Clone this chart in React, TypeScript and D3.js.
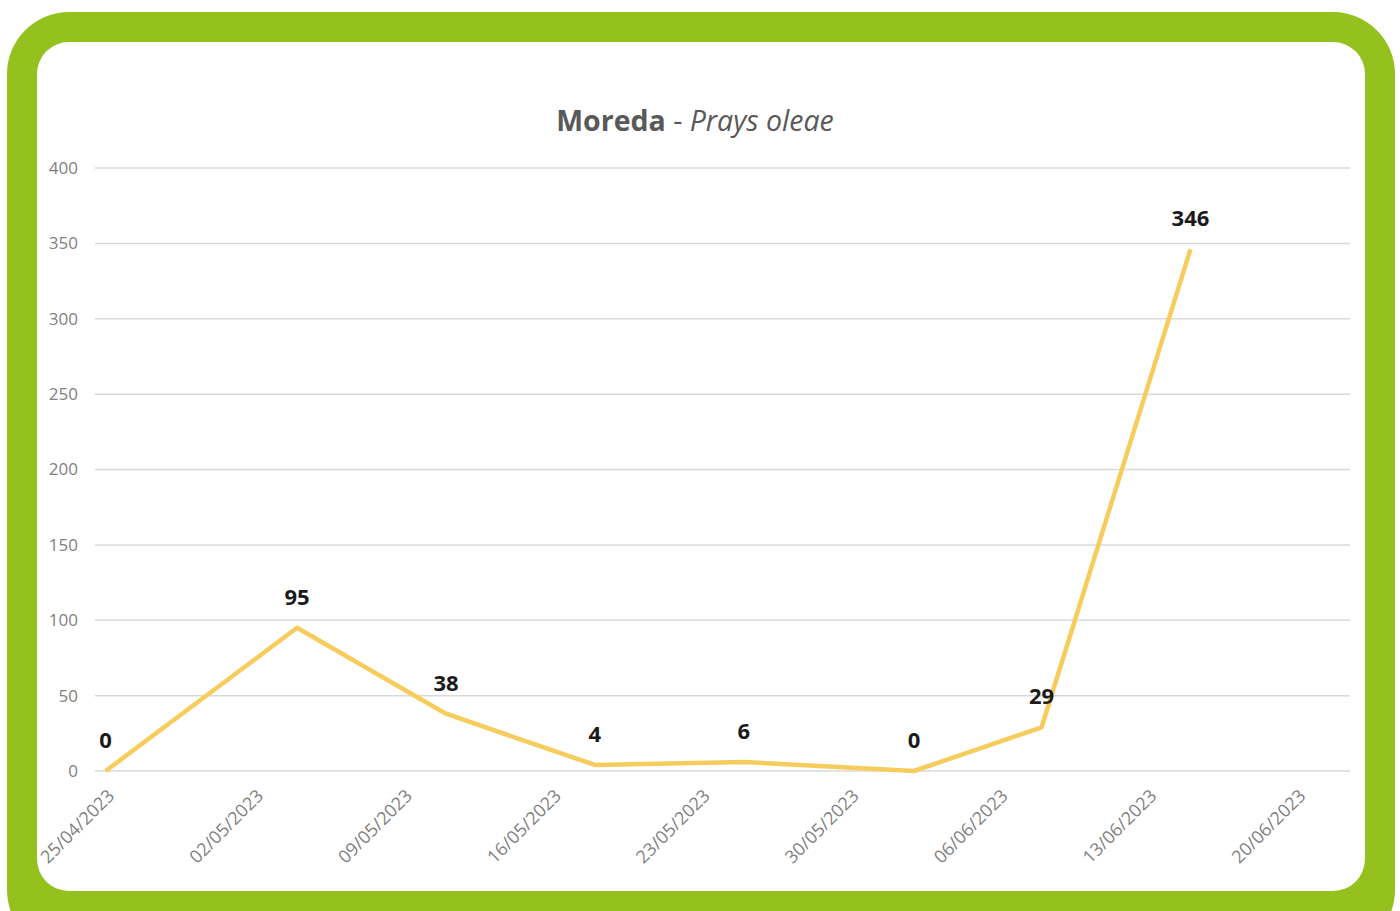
import React from "react";
import * as d3 from "d3";

const dates = ["2023-04-25", "2023-05-04", "2023-05-11", "2023-05-18", "2023-05-25", "2023-06-02", "2023-06-08", "2023-06-15"];
const values = [0, 95, 38, 4, 6, 0, 29, 346];
const tickDates = ["2023-04-25", "2023-05-02", "2023-05-09", "2023-05-16", "2023-05-23", "2023-05-30", "2023-06-06", "2023-06-13", "2023-06-20"];
const yTicks = [0, 50, 100, 150, 200, 250, 300, 350, 400];
const titleMain = "Moreda";
const titleSpecies = "Prays oleae";

const W = 1400;
const H = 911;
const parse = (s: string) => new Date(s + "T00:00:00");
const fmt = d3.timeFormat("%d/%m/%Y");

export default function App() {
  const x = d3
    .scaleTime()
    .domain([new Date("2023-04-24T12:00:00"), new Date("2023-06-22T12:00:00")])
    .range([95, 1350]);
  const y = d3.scaleLinear().domain([0, 400]).range([771, 168]);
  const pts = dates.map((d, i) => ({ d: parse(d), v: values[i] }));
  const line = d3
    .line<{ d: Date; v: number }>()
    .x((p) => x(p.d))
    .y((p) => y(p.v));
  const font = "'Open Sans', 'Noto Sans', sans-serif";

  return (
    <svg
      width={W}
      height={H}
      style={{ position: "absolute", left: 0, top: 0 }}
      fontFamily={font}
    >
      <rect x={0} y={0} width={W} height={H} fill="#ffffff" />
      <rect x={7} y={12} width={1388} height={940} rx={62} ry={62} fill="#95C11F" />
      <rect x={37} y={42} width={1328} height={849} rx={32} ry={32} fill="#ffffff" />

      <text x={695} y={131} textAnchor="middle" fontSize={28.5} fill="#595959">
        <tspan fontWeight="bold">{titleMain}</tspan>
        <tspan> - </tspan>
        <tspan fontStyle="italic">{titleSpecies}</tspan>
      </text>

      {yTicks.map((t) => (
        <g key={t}>
          <line x1={95} x2={1350} y1={y(t)} y2={y(t)} stroke="#d9d9d9" strokeWidth={1.5} />
          <text x={78} y={y(t)} dy="0.35em" textAnchor="end" fontSize={17} fill="#7f7f7f">
            {t}
          </text>
        </g>
      ))}

      {tickDates.map((t) => {
        const tx = x(parse(t));
        return (
          <text
            key={t}
            transform={`translate(${tx + 1},${788}) rotate(-45)`}
            textAnchor="end"
            dy="0.7em"
            fontSize={18}
            fill="#7f7f7f"
          >
            {fmt(parse(t))}
          </text>
        );
      })}

      <path d={line(pts) || ""} fill="none" stroke="#F6CD5C" strokeWidth={4.5} strokeLinejoin="round" />

      {pts.map((p, i) => (
        <text
          key={i}
          x={x(p.d)}
          y={y(p.v) - 23}
          textAnchor="middle"
          fontSize={22}
          fontWeight="bold"
          fill="#1a1a1a"
        >
          {p.v}
        </text>
      ))}
    </svg>
  );
}
